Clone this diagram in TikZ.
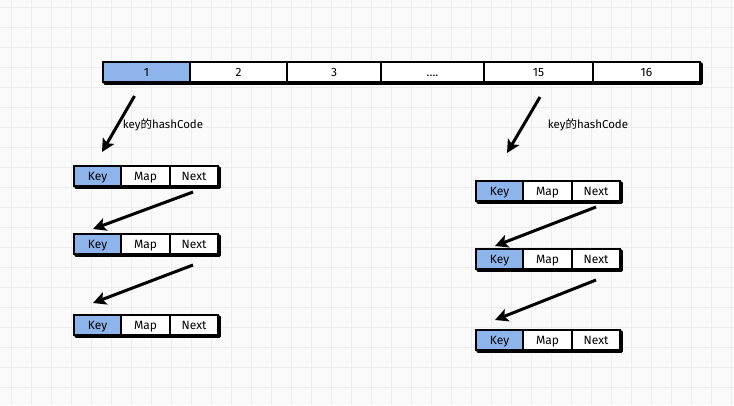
\documentclass[tikz,border=0pt]{standalone}
\usepackage{fontspec}
\setmainfont{Fira Sans}
\newfontfamily\cjk{Noto Sans CJK SC}
\usetikzlibrary{arrows.meta,calc}
\definecolor{keyblue}{RGB}{142,180,236}
\definecolor{bgc}{RGB}{250,250,250}
\definecolor{gridc}{RGB}{236,236,236}
\newcommand\entryrow[3]{%
  \node[keycell,minimum width=47pt] (#1k) at (#2,#3) {Key};
  \node[plaincell,minimum width=49pt] (#1m) at (#1k.north east) {Map};
  \node[plaincell,minimum width=48pt] (#1n) at (#1m.north east) {Next};
  \draw[shadow] ($(#1k.south west)+(2,1.4)$) -- ($(#1n.south east)+(1.4,1.4)$) -- ($(#1n.north east)+(1.4,2)$);
}
\begin{document}
\begin{tikzpicture}[x=1pt,y=-1pt,
  cell/.style={draw=black,line width=1.1pt,minimum height=20pt,inner sep=0pt,outer sep=0pt,anchor=north west,text height=10pt,text depth=1pt,font=\fontsize{12}{13}\selectfont},
  keycell/.style={cell,fill=keyblue},
  plaincell/.style={cell,fill=white},
  shadow/.style={line width=3.2pt,line cap=round,line join=round},
  arr/.style={line width=3pt,-{Stealth[length=13pt,width=13pt,inset=3pt]}},
  lbl/.style={font=\fontsize{11.5}{12}\selectfont}]
\fill[bgc] (0,0) rectangle (734,405);
\useasboundingbox (0,0) rectangle (734,405);
\foreach \x in {11,31,...,731} \draw[gridc,line width=1pt] (\x,0) -- (\x,405);
\foreach \y in {7,27,...,407} \draw[gridc,line width=1pt] (0,\y) -- (734,\y);
% top array
\node[keycell,minimum width=87pt] (a1) at (103,62) {1};
\node[plaincell,minimum width=97pt] (a2) at (a1.north east) {2};
\node[plaincell,minimum width=94pt] (a3) at (a2.north east) {3};
\node[plaincell,minimum width=103pt] (a4) at (a3.north east) {....};
\node[plaincell,minimum width=109pt] (a15) at (a4.north east) {15};
\node[plaincell,minimum width=107pt] (a16) at (a15.north east) {16};
\draw[shadow] ($(a1.south west)+(2,1.4)$) -- ($(a16.south east)+(1.4,1.4)$) -- ($(a16.north east)+(1.4,2)$);
% chains
\entryrow{l1}{74}{166}
\entryrow{l2}{74}{234}
\entryrow{l3}{74}{315}
\entryrow{r1}{476}{181}
\entryrow{r2}{476}{249}
\entryrow{r3}{476}{330}
% labels
\node[lbl] (hl) at (163,125) {key{\cjk 的}hashCode};
\node[lbl] (hr) at (588,125) {key{\cjk 的}hashCode};
% arrows
\draw[arr] ($(a1.south)+(-12,14)$) -- ($(l1k.north)+(4.5,-14)$);
\draw[arr] ($(l1n.south)+(-1,6)$) -- ($(l2k.north)+(-4.5,-5)$);
\draw[arr] ($(l2n.south)+(-1,11)$) -- ($(l3k.north)+(-4.5,-12)$);
\draw[arr] ($(a15.south)+(1.5,15)$) -- ($(r1k.north)+(7.5,-28)$);
\draw[arr] ($(r1n.south)+(0,6)$) -- ($(r2k.north)+(-4.5,-3)$);
\draw[arr] ($(r2n.south)+(0,11)$) -- ($(r3k.north)+(-4.5,-10)$);
\end{tikzpicture}
\end{document}
